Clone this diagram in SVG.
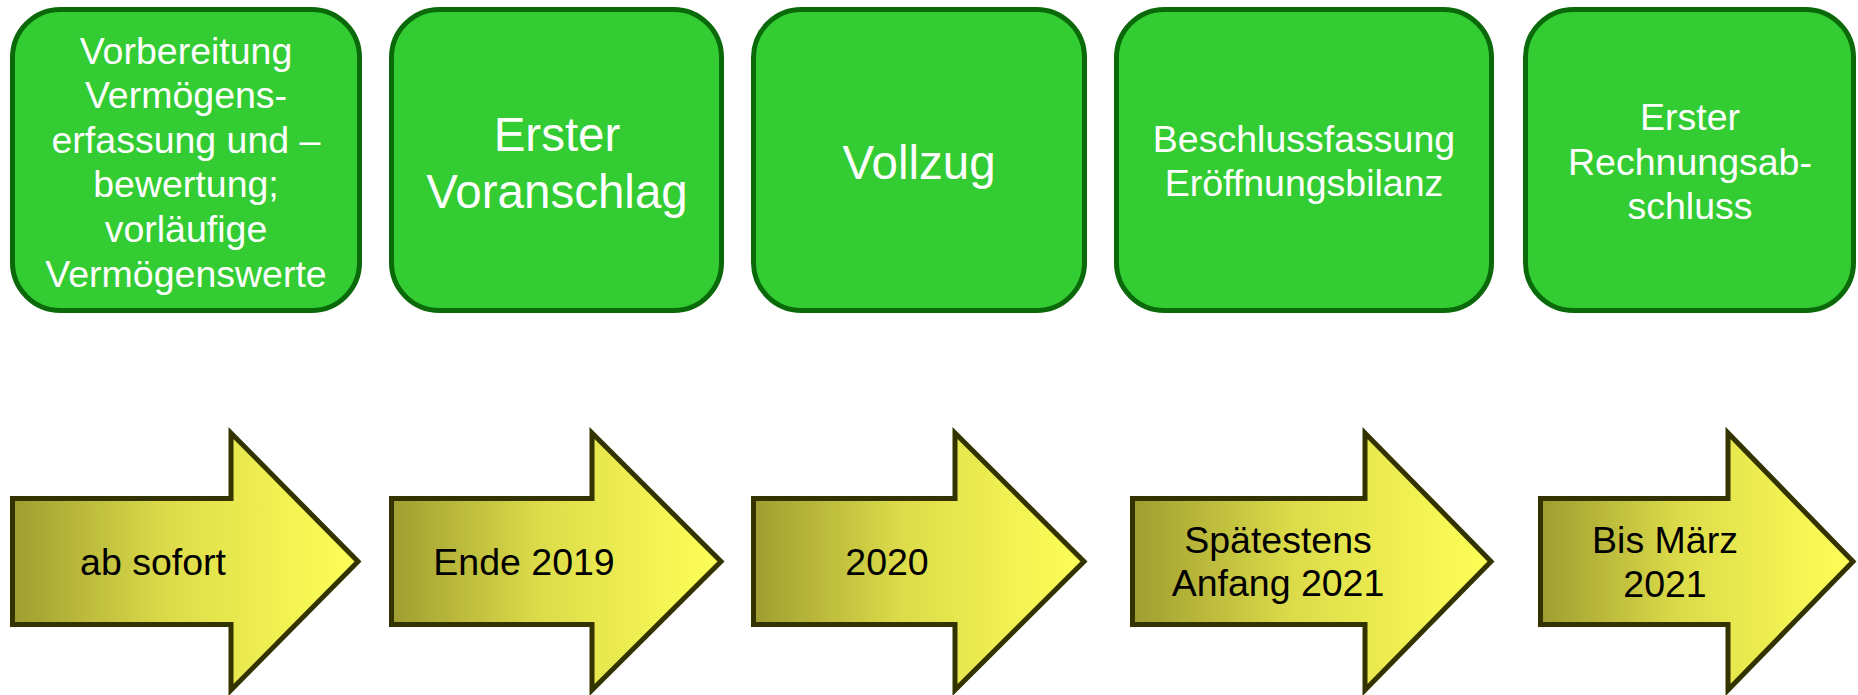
<svg xmlns="http://www.w3.org/2000/svg" width="1858" height="695" viewBox="0 0 1858 695">
<style>
.box{fill:#33cc33;stroke:#0a6a0a;stroke-width:5}
.arr{fill:url(#yg);stroke:#333300;stroke-width:5;stroke-linejoin:miter}
.bt{font-family:"Liberation Sans",Arial,sans-serif;font-size:37.5px;fill:#ffffff;text-anchor:middle}
.bl{font-size:47.5px}
.at{font-family:"Liberation Sans",Arial,sans-serif;font-size:37.5px;fill:#000000;text-anchor:middle}
</style>
<defs>
<linearGradient id="yg" x1="0" y1="0" x2="1" y2="0">
<stop offset="0" stop-color="#9f9d30"/>
<stop offset="0.45" stop-color="#dcdc4a"/>
<stop offset="1" stop-color="#ffff58"/>
</linearGradient>
</defs>
<g id="node1">
<rect class="box" x="12.5" y="9.5" width="347" height="301" rx="48" ry="48"/>
<text class="bt" x="186" y="64">Vorbereitung</text>
<text class="bt" x="186" y="108">Vermögens-</text>
<text class="bt" x="186" y="153">erfassung und –</text>
<text class="bt" x="186" y="197">bewertung;</text>
<text class="bt" x="186" y="242">vorläufige</text>
<text class="bt" x="186" y="287">Vermögenswerte</text>
</g>
<g id="node2">
<rect class="box" x="391.5" y="9.5" width="330" height="301" rx="48" ry="48"/>
<text class="bt bl" x="557" y="151">Erster</text>
<text class="bt bl" x="557" y="208">Voranschlag</text>
</g>
<g id="node3">
<rect class="box" x="753.5" y="9.5" width="331" height="301" rx="48" ry="48"/>
<text class="bt bl" x="919" y="179">Vollzug</text>
</g>
<g id="node4">
<rect class="box" x="1116.5" y="9.5" width="375" height="301" rx="48" ry="48"/>
<text class="bt" x="1304" y="152">Beschlussfassung</text>
<text class="bt" x="1304" y="196">Eröffnungsbilanz</text>
</g>
<g id="node5">
<rect class="box" x="1525.5" y="9.5" width="328" height="301" rx="48" ry="48"/>
<text class="bt" x="1690" y="130">Erster</text>
<text class="bt" x="1690" y="175">Rechnungsab-</text>
<text class="bt" x="1690" y="219">schluss</text>
</g>
<g id="connectors">
<g id="arrow1">
<polygon class="arr" points="12.5,498.5 231,498.5 231,433 358,561.5 231,690 231,624.5 12.5,624.5"/>
<text class="at" x="153" y="575">ab sofort</text>
</g>
<g id="arrow2">
<polygon class="arr" points="391.5,498.5 592,498.5 592,433 721,561.5 592,690 592,624.5 391.5,624.5"/>
<text class="at" x="524" y="575">Ende 2019</text>
</g>
<g id="arrow3">
<polygon class="arr" points="753.5,498.5 955,498.5 955,433 1084,561.5 955,690 955,624.5 753.5,624.5"/>
<text class="at" x="887" y="575">2020</text>
</g>
<g id="arrow4">
<polygon class="arr" points="1132.5,498.5 1365,498.5 1365,433 1491,561.5 1365,690 1365,624.5 1132.5,624.5"/>
<text class="at" x="1278" y="553">Spätestens</text>
<text class="at" x="1278" y="596">Anfang 2021</text>
</g>
<g id="arrow5">
<polygon class="arr" points="1540.5,498.5 1728,498.5 1728,433 1853,561.5 1728,690 1728,624.5 1540.5,624.5"/>
<text class="at" x="1665" y="553">Bis März</text>
<text class="at" x="1665" y="597">2021</text>
</g>
</g>
</svg>
